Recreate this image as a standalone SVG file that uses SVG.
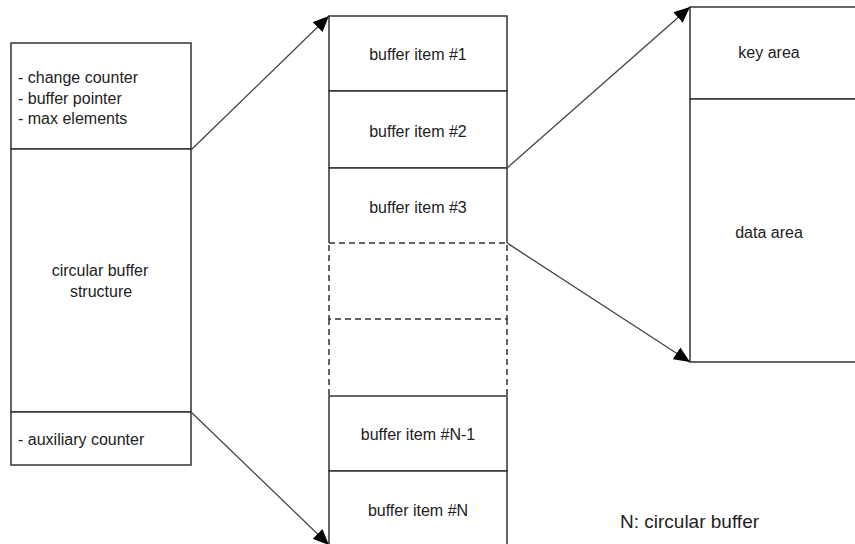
<svg xmlns="http://www.w3.org/2000/svg" width="855" height="544" viewBox="0 0 855 544">
<style>
.box{fill:#fff;stroke:#333;stroke-width:1.5}
.dash{fill:none;stroke:#333;stroke-width:1.5;stroke-dasharray:6,4}
.t{font-family:"Liberation Sans",Arial,sans-serif;font-size:16px;fill:#222}
.c{text-anchor:middle}
.conn{stroke:#444;stroke-width:1.3;fill:none;marker-end:url(#ah)}
</style>
<defs>
<marker id="ah" viewBox="0 0 16 14" refX="16" refY="7" markerWidth="16" markerHeight="14" markerUnits="userSpaceOnUse" orient="auto">
<path d="M0,0 L16,7 L0,14 z" fill="#000"/>
</marker>
</defs>
<rect width="855" height="544" fill="#fff"/>

<g id="struct-header">
<rect class="box" x="11" y="43" width="180" height="106"/>
<text class="t" x="18" y="83">- change counter</text>
<text class="t" x="18" y="104">- buffer pointer</text>
<text class="t" x="18" y="124">- max elements</text>
</g>
<g id="struct-body">
<rect class="box" x="11" y="149" width="180" height="263"/>
<text class="t c" x="100" y="276">circular buffer</text>
<text class="t c" x="101" y="297">structure</text>
</g>
<g id="struct-aux">
<rect class="box" x="11" y="412" width="180" height="53"/>
<text class="t" x="18" y="445">- auxiliary counter</text>
</g>

<g id="item1">
<rect class="box" x="329" y="16" width="178" height="75"/>
<text class="t c" x="418" y="60">buffer item #1</text>
</g>
<g id="item2">
<rect class="box" x="329" y="91" width="178" height="77"/>
<text class="t c" x="418" y="137">buffer item #2</text>
</g>
<g id="item3">
<path class="box" d="M329,243 V168 H507 V243" fill="none"/>
<text class="t c" x="418" y="213">buffer item #3</text>
</g>
<g id="gap1">
<rect class="dash" x="329" y="243" width="178" height="76"/>
</g>
<g id="gap2">
<path class="dash" d="M329,319 V396 M507,319 V396"/>
</g>
<g id="itemN-1">
<rect class="box" x="329" y="396" width="178" height="75"/>
<text class="t c" x="418" y="440">buffer item #N-1</text>
</g>
<g id="itemN">
<rect class="box" x="329" y="471" width="178" height="90"/>
<text class="t c" x="418" y="516">buffer item #N</text>
</g>

<g id="key-area">
<rect class="box" x="690" y="7" width="180" height="92"/>
<text class="t c" x="769" y="58">key area</text>
</g>
<g id="data-area">
<rect class="box" x="690" y="99" width="180" height="263"/>
<text class="t c" x="769" y="238">data area</text>
</g>

<g id="legend">
<text class="t" x="620" y="528" style="font-size:19px">N: circular buffer</text>
</g>

<g id="connectors">
<line class="conn" x1="191" y1="150" x2="329" y2="16"/>
<line class="conn" x1="191" y1="412" x2="329" y2="545"/>
<line class="conn" x1="507" y1="168" x2="690" y2="7"/>
<line class="conn" x1="507" y1="243" x2="690" y2="362"/>
</g>
</svg>
